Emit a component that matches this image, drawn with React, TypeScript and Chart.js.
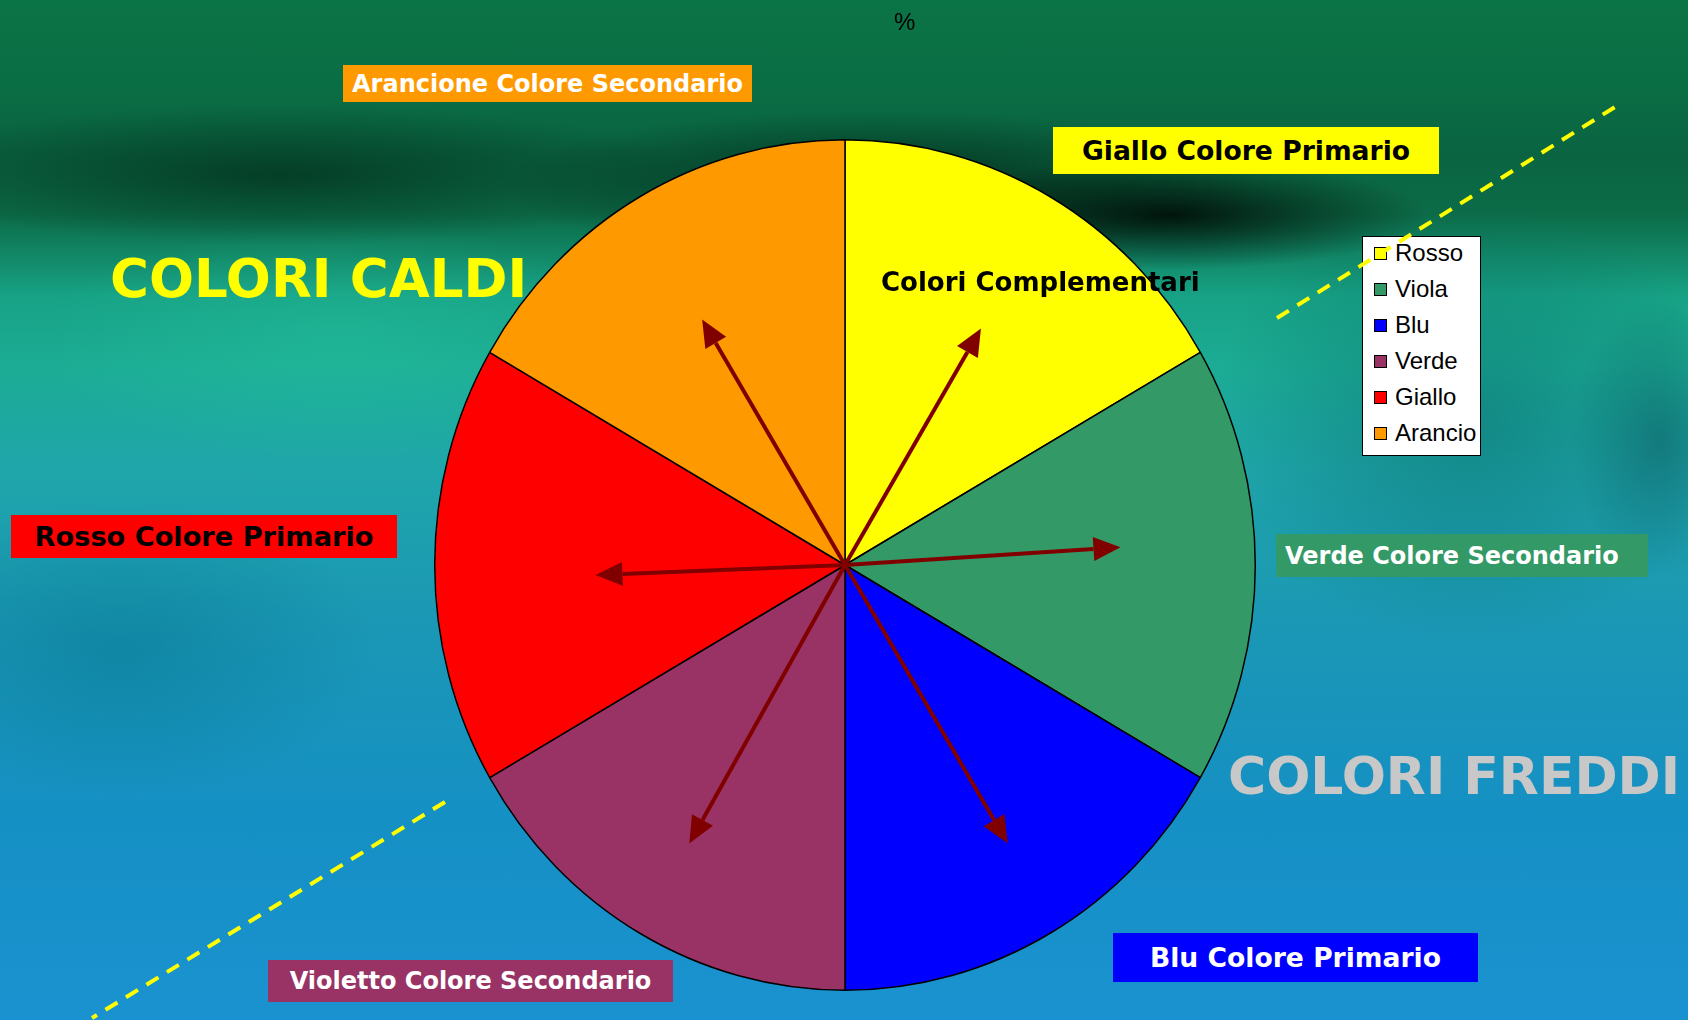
import React, { useEffect, useRef } from "react";
import { Chart, registerables } from "chart.js";
Chart.register(...registerables);

// ---- data ----
const legendLabels = ["Rosso", "Viola", "Blu", "Verde", "Giallo", "Arancio"];
const sliceValues = [16.67, 16.67, 16.67, 16.67, 16.67, 16.67];
const sliceColors = ["#FFFF00", "#339966", "#0000FF", "#993366", "#FF0000", "#FF9900"];
const chartTitle = "%";
// complementary arrows: direction (deg, canvas coords) and length as fraction of radius
const arrowAngles = [-120.2, -60.1, -3.7, 177.7, 119.2, 59.7];
const arrowLengths = [0.679, 0.652, 0.66, 0.597, 0.763, 0.771];

const boxLabels = [
  { text: "Arancione Colore Secondario", bg: "#FF9900", fg: "#FFFFFF", x: 343, y: 65, w: 409, h: 37, fs: 24, pad: 0 },
  { text: "Giallo Colore Primario", bg: "#FFFF00", fg: "#000000", x: 1053, y: 127, w: 386, h: 47, fs: 26.6, pad: 0 },
  { text: "Rosso Colore Primario", bg: "#FF0000", fg: "#000000", x: 11, y: 515, w: 386, h: 43, fs: 27.2, pad: 0 },
  { text: "Verde Colore Secondario", bg: "#339966", fg: "#FFFFFF", x: 1276, y: 534, w: 372, h: 43, fs: 24, pad: 9 },
  { text: "Blu Colore Primario", bg: "#0000FF", fg: "#FFFFFF", x: 1113, y: 933, w: 365, h: 49, fs: 26.6, pad: 0 },
  { text: "Violetto Colore Secondario", bg: "#993366", fg: "#FFFFFF", x: 268, y: 960, w: 405, h: 42, fs: 24, pad: 0 },
];

// the original pie is slightly taller than wide
const pieScaleX = 0.981;
const pieScaleY = 1.0167;

const piePlugin = {
  id: "ellipseAndArrows",
  beforeDatasetsDraw(chart: any) {
    const arc = chart.getDatasetMeta(0).data[0];
    const ctx = chart.ctx;
    ctx.save();
    if (!arc) return;
    const { x, y } = arc.getProps(["x", "y"], true);
    ctx.translate(x, y);
    ctx.scale(pieScaleX, pieScaleY);
    ctx.translate(-x, -y);
  },
  afterDatasetsDraw(chart: any) {
    const ctx = chart.ctx;
    ctx.restore();
    const arc = chart.getDatasetMeta(0).data[0];
    if (!arc) return;
    const { x, y, outerRadius } = arc.getProps(["x", "y", "outerRadius"], true);
    ctx.save();
    ctx.strokeStyle = "#800000";
    ctx.fillStyle = "#800000";
    ctx.lineWidth = 4;
    arrowAngles.forEach((deg, i) => {
      const a = (deg * Math.PI) / 180;
      const L = outerRadius * arrowLengths[i];
      const ex = x + Math.cos(a) * L;
      const ey = y + Math.sin(a) * L;
      const head = 27;
      const hw = 12;
      const bx = ex - Math.cos(a) * head;
      const by = ey - Math.sin(a) * head;
      ctx.beginPath();
      ctx.moveTo(x, y);
      ctx.lineTo(bx, by);
      ctx.stroke();
      ctx.beginPath();
      ctx.moveTo(ex, ey);
      ctx.lineTo(bx - Math.sin(a) * hw, by + Math.cos(a) * hw);
      ctx.lineTo(bx + Math.sin(a) * hw, by - Math.cos(a) * hw);
      ctx.closePath();
      ctx.fill();
    });
    ctx.restore();
  },
};

const bold = "'DejaVu Sans', Verdana, sans-serif";

const bg =
  "radial-gradient(ellipse 260px 55px at 1170px 215px, rgba(0,12,6,0.9), rgba(0,12,6,0) 100%)," +
  "radial-gradient(ellipse 380px 75px at 880px 185px, rgba(0,25,12,0.7), rgba(0,25,12,0) 100%)," +
  "radial-gradient(ellipse 420px 70px at 280px 175px, rgba(0,35,18,0.6), rgba(0,35,18,0) 100%)," +
  "radial-gradient(ellipse 260px 220px at 1470px 420px, rgba(6,105,105,0.5), rgba(6,105,105,0) 100%)," +
  "radial-gradient(ellipse 90px 140px at 1660px 440px, rgba(4,60,70,0.4), rgba(4,60,70,0) 100%)," +
  "radial-gradient(ellipse 260px 150px at 120px 650px, rgba(0,110,135,0.4), rgba(0,110,135,0) 100%)," +
  "radial-gradient(ellipse 300px 120px at 340px 340px, rgba(40,200,160,0.35), rgba(40,200,160,0) 100%)," +
  "linear-gradient(180deg, #0b7446 0%, #0a6e44 8%, #0a6442 15%, #0c6c48 21%, #17a285 29%, #1cac95 36%, #1fa6aa 46%, #1b98b4 60%, #1590c4 80%, #1a92d0 100%)";

export default function App() {
  const ref = useRef<HTMLCanvasElement>(null);
  useEffect(() => {
    if (!ref.current) return;
    const chart = new Chart(ref.current, {
      type: "pie",
      data: {
        labels: legendLabels,
        datasets: [
          {
            data: sliceValues,
            backgroundColor: sliceColors,
            borderColor: "#000000",
            borderWidth: 1.5,
          },
        ],
      },
      options: {
        animation: false,
        responsive: false,
        maintainAspectRatio: false,
        layout: { padding: { top: 146, bottom: 36, left: 2, right: 0 } },
        plugins: { legend: { display: false }, tooltip: { enabled: false } },
      },
      plugins: [piePlugin],
    });
    return () => chart.destroy();
  }, []);

  return (
    <div
      style={{
        position: "fixed",
        left: 0,
        top: 0,
        width: 1688,
        height: 1020,
        overflow: "hidden",
        background: bg,
      }}
    >
      <canvas ref={ref} width={1688} height={1020} style={{ position: "absolute", left: 0, top: 0 }} />
      <div style={{ position: "absolute", left: 894, top: 8, fontFamily: "'Liberation Sans', Arial, sans-serif", fontSize: 24, color: "#000", lineHeight: "normal" }}>
        {chartTitle}
      </div>
      {boxLabels.map((b) => (
        <div
          key={b.text}
          style={{
            position: "absolute",
            left: b.x,
            top: b.y,
            width: b.w,
            height: b.h,
            boxSizing: "border-box",
            paddingLeft: b.pad,
            background: b.bg,
            color: b.fg,
            display: "flex",
            alignItems: "center",
            justifyContent: b.pad ? "flex-start" : "center",
            fontFamily: bold,
            fontWeight: "bold",
            fontSize: b.fs,
            whiteSpace: "nowrap",
          }}
        >
          {b.text}
        </div>
      ))}
      <div style={{ position: "absolute", left: 110, top: 248, fontFamily: bold, fontWeight: "bold", fontSize: 53, color: "#FFFF00", whiteSpace: "nowrap" }}>
        COLORI CALDI
      </div>
      <div style={{ position: "absolute", left: 1228, top: 746, fontFamily: bold, fontWeight: "bold", fontSize: 52, color: "#C8C8C8", whiteSpace: "nowrap" }}>
        COLORI FREDDI
      </div>
      <div style={{ position: "absolute", left: 881, top: 267, fontFamily: bold, fontWeight: "bold", fontSize: 26, color: "#000", whiteSpace: "nowrap" }}>
        Colori Complementari
      </div>
      <div
        style={{
          position: "absolute",
          left: 1362,
          top: 236,
          width: 119,
          height: 220,
          boxSizing: "border-box",
          background: "#FFFFFF",
          border: "1px solid #000",
          fontFamily: "'Liberation Sans', Arial, sans-serif",
          fontSize: 24,
          color: "#000",
        }}
      >
        {legendLabels.map((l, i) => (
          <div key={l} style={{ position: "absolute", left: 11, top: 1 + i * 36, height: 30, display: "flex", alignItems: "center" }}>
            <span style={{ display: "inline-block", width: 11, height: 11, background: sliceColors[i], border: "1.5px solid #000", marginRight: 8 }} />
            <span>{l}</span>
          </div>
        ))}
      </div>
      <svg width={1688} height={1020} style={{ position: "absolute", left: 0, top: 0, pointerEvents: "none" }}>
        <line x1={1277} y1={318} x2={1623} y2={102} stroke="#FFFF00" strokeWidth={4} strokeDasharray="14 10" />
        <line x1={445} y1={802} x2={92} y2={1018} stroke="#FFFF00" strokeWidth={4} strokeDasharray="14 10" />
      </svg>
    </div>
  );
}
